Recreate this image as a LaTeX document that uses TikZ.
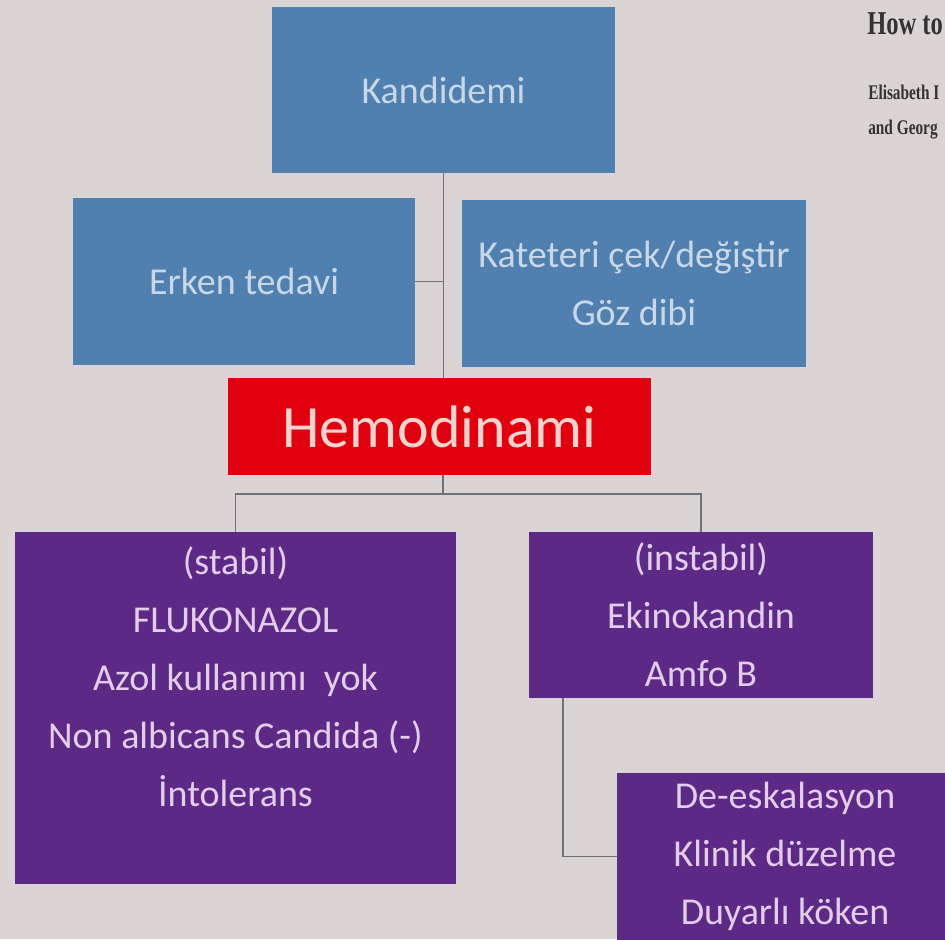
\documentclass[tikz,border=0pt]{standalone}
\usepackage{fontspec}
\setmainfont{Carlito}
\newfontfamily\refserif{Liberation Serif}
\definecolor{slidebg}{HTML}{DAD5D4}
\definecolor{boxblue}{HTML}{4F80B0}
\definecolor{txtblue}{HTML}{C9D7E6}
\definecolor{boxred}{HTML}{E0000E}
\definecolor{txtred}{HTML}{F4D3CF}
\definecolor{boxpurple}{HTML}{5C2A86}
\definecolor{txtpurple}{HTML}{E3CDE8}
\definecolor{linkgray}{HTML}{6E7178}
\newcommand{\tallsrc}[1]{\scalebox{0.92}[1.25]{#1}}
\tikzset{
  box/.style={inner sep=0pt, outer sep=0pt, align=center,
    font=\fontsize{28.5}{43.5}\selectfont},
  bluebox/.style={box, fill=boxblue, text=txtblue},
  purplebox/.style={box, fill=boxpurple, text=txtpurple},
  source/.style={anchor=base west, inner sep=0pt, text=black!80,
    font=\refserif\bfseries\fontsize{12.5}{12.5}\selectfont},
  link/.style={draw=linkgray, line width=1.4pt}
}
\begin{document}
\begin{tikzpicture}[x=0.75pt,y=-0.75pt]
\fill[slidebg] (0,0) rectangle (945,939);
\useasboundingbox (0,0) rectangle (945,939);
\clip (0,0) rectangle (945,939);

% source lines, top right
\node[source, font=\refserif\bfseries\fontsize{20}{20}\selectfont] (howto) at (867,34) {\tallsrc{How to}};
\node[source] (author1) at (868,99) {\tallsrc{Elisabeth I}};
\node[source] (author2) at (868,134) {\tallsrc{and Georg}};

% top level
\node[bluebox, minimum width=257.25pt, minimum height=124.5pt] (kandidemi) at (443.5,90) {Kandidemi};
\node[bluebox, minimum width=256.5pt, minimum height=125.25pt] (erken) at (244,281.5) {Erken tedavi};
\node[bluebox, minimum width=258pt, minimum height=125.25pt] (kateter) at (634,283.5) {Kateteri çek/değiştir\\Göz dibi};
\node[box, fill=boxred, text=txtred, font=\fontsize{45}{45}\selectfont, minimum width=317.25pt, minimum height=72.75pt] (hemo) at (439.5,426.5) {Hemodinami};

% treatment branches
\node[purplebox, minimum width=330.75pt, minimum height=264pt] (stabil) at (235.5,708) {};
\node[box, text=txtpurple] (stabiltext) at (235.5,677) {(stabil)\\FLUKONAZOL\\Azol kullanımı\ \ yok\\Non albicans Candida\ (-)\\İntolerans};
\node[purplebox, minimum width=258pt, minimum height=124.5pt] (instabil) at (701,615) {(instabil)\\Ekinokandin\\Amfo B};
\node[purplebox, minimum width=252pt, minimum height=125.25pt] (deesk) at (785,856.5) {De-eskalasyon\\Klinik düzelme\\Duyarlı köken};

% connectors
\coordinate (split) at (443,494);
\draw[link] (kandidemi.south) -- (kandidemi.south |- hemo.north);
\draw[link] (erken.east) -- (erken.east -| kandidemi.south);
\draw[link] (hemo.south -| split) -- (split);
\draw[link] (stabil.north) |- (split) -| (instabil.north);
\draw[link] (instabil.south west) ++(34,0) |- (deesk.west);
\end{tikzpicture}
\end{document}
